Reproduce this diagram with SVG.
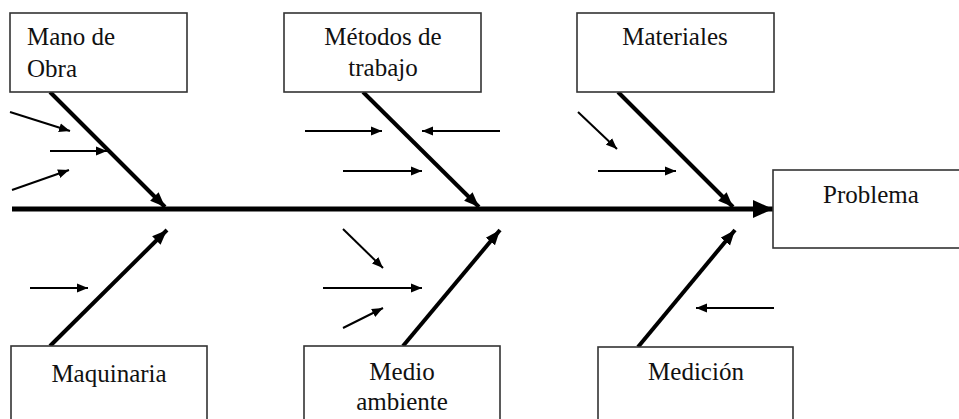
<svg xmlns="http://www.w3.org/2000/svg" width="959" height="419" viewBox="0 0 959 419">
<defs>
<style>
.box{fill:#fff;stroke:#333;stroke-width:1.6}
.lbl{font-size:25px;fill:#111}
.mid{text-anchor:middle}
.spine{stroke:#000;stroke-width:5;fill:none}
.bone{stroke:#000;stroke-width:4;fill:none}
.sub{stroke:#000;stroke-width:2;fill:none}
</style>
<marker id="headSpine" markerUnits="userSpaceOnUse" markerWidth="22" markerHeight="20" viewBox="0 0 22 20" refX="20" refY="10" orient="auto">
<path d="M0,1 L20,10 L0,19 Z" fill="#000"/>
</marker>
<marker id="headBone" markerUnits="userSpaceOnUse" markerWidth="16" markerHeight="14" viewBox="0 0 16 14" refX="15" refY="7" orient="auto">
<path d="M0,1 L15,7 L0,13 Z" fill="#000"/>
</marker>
<marker id="headSub" markerUnits="userSpaceOnUse" markerWidth="12" markerHeight="10" viewBox="0 0 12 10" refX="11" refY="5" orient="auto">
<path d="M0,0.5 L11,5 L0,9.5 Z" fill="#000"/>
</marker>
</defs>
<g id="connectors">
<line class="spine" x1="12" y1="209" x2="773" y2="209" marker-end="url(#headSpine)"/>
<line class="bone" x1="50" y1="92" x2="165" y2="207" marker-end="url(#headBone)"/>
<line class="bone" x1="363" y1="92" x2="479" y2="207" marker-end="url(#headBone)"/>
<line class="bone" x1="618" y1="92" x2="733" y2="207" marker-end="url(#headBone)"/>
<line class="bone" x1="50" y1="346" x2="167" y2="230" marker-end="url(#headBone)"/>
<line class="bone" x1="403" y1="346" x2="500" y2="230" marker-end="url(#headBone)"/>
<line class="bone" x1="638" y1="347" x2="735" y2="230" marker-end="url(#headBone)"/>
<line class="sub" x1="10" y1="112" x2="70" y2="131" marker-end="url(#headSub)"/>
<line class="sub" x1="50" y1="151" x2="107" y2="151" marker-end="url(#headSub)"/>
<line class="sub" x1="12" y1="190" x2="69" y2="170" marker-end="url(#headSub)"/>
<line class="sub" x1="305" y1="131" x2="382" y2="131" marker-end="url(#headSub)"/>
<line class="sub" x1="500" y1="131" x2="422" y2="131" marker-end="url(#headSub)"/>
<line class="sub" x1="343" y1="171" x2="422" y2="171" marker-end="url(#headSub)"/>
<line class="sub" x1="578" y1="112" x2="617" y2="149" marker-end="url(#headSub)"/>
<line class="sub" x1="598" y1="171" x2="676" y2="171" marker-end="url(#headSub)"/>
<line class="sub" x1="30" y1="288" x2="88" y2="288" marker-end="url(#headSub)"/>
<line class="sub" x1="343" y1="229" x2="383" y2="268" marker-end="url(#headSub)"/>
<line class="sub" x1="323" y1="288" x2="422" y2="288" marker-end="url(#headSub)"/>
<line class="sub" x1="343" y1="328" x2="383" y2="308" marker-end="url(#headSub)"/>
<line class="sub" x1="774" y1="308" x2="696" y2="308" marker-end="url(#headSub)"/>
</g>
<g font-family="'Liberation Serif', 'Times New Roman', serif">
<g id="mano-de-obra">
<rect class="box" x="10" y="13" width="177" height="79"/>
<text class="lbl" x="27" y="45">Mano de</text>
<text class="lbl" x="27" y="77">Obra</text>
</g>
<g id="metodos">
<rect class="box" x="284" y="13" width="197" height="79"/>
<text class="lbl mid" x="383" y="45">Métodos de</text>
<text class="lbl mid" x="383" y="76">trabajo</text>
</g>
<g id="materiales">
<rect class="box" x="577" y="13" width="197" height="79"/>
<text class="lbl mid" x="675" y="45">Materiales</text>
</g>
<g id="problema">
<rect class="box" x="773" y="170" width="200" height="78"/>
<text class="lbl mid" x="871" y="203">Problema</text>
</g>
<g id="maquinaria">
<rect class="box" x="11" y="346" width="196" height="90"/>
<text class="lbl mid" x="109" y="382">Maquinaria</text>
</g>
<g id="medio-ambiente">
<rect class="box" x="304" y="346" width="196" height="90"/>
<text class="lbl mid" x="402" y="380">Medio</text>
<text class="lbl mid" x="402" y="410">ambiente</text>
</g>
<g id="medicion">
<rect class="box" x="598" y="347" width="195" height="90"/>
<text class="lbl mid" x="696" y="380">Medición</text>
</g>
</g>
</svg>
